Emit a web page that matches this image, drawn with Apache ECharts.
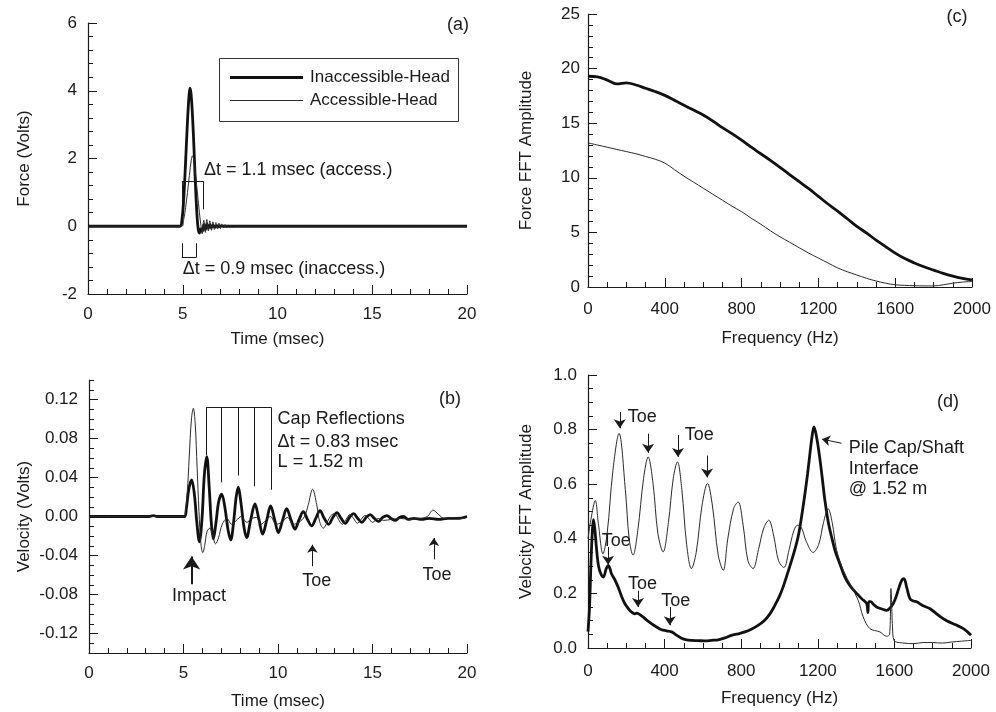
<!DOCTYPE html>
<html>
<head>
<meta charset="utf-8">
<script src="https://cdn.jsdelivr.net/npm/echarts@6/dist/echarts.min.js"></script>
<style>
  html, body { margin: 0; padding: 0; background: #fff; }
  #chart { width: 996px; height: 712px; }
</style>
</head>
<body>
<div id="chart"></div>
<script>
// ---- (a) force time histories [time ms, volts] ----
const forceInacc = [[0,0],[4.85,0],[4.95,0.15],[5.05,0.8],[5.15,1.9],[5.25,3.1],[5.33,3.85],[5.38,4.08],[5.44,3.9],[5.52,3.2],
  [5.6,2.2],[5.68,1.1],[5.76,0.25],[5.82,-0.1],[5.88,-0.2],[5.95,-0.08],[6.03,-0.15],[6.11,0.05],[6.19,-0.1],[6.27,0.06],
  [6.35,-0.06],[6.43,0.05],[6.51,-0.04],[6.6,0.03],[6.7,-0.03],[6.8,0.02],[6.9,-0.02],[7.0,0.01],[7.2,0],[7.5,0],[20,0]];
const forceAcc = [[0,0],[4.95,0],[5.05,0.2],[5.15,0.55],[5.25,1.0],[5.35,1.5],[5.45,1.95],[5.51,2.08],[5.58,1.95],[5.68,1.5],
  [5.78,0.95],[5.88,0.4],[5.96,0.02],[6.03,-0.22],[6.11,0.18],[6.19,-0.18],[6.27,0.2],[6.35,-0.14],[6.43,0.16],[6.51,-0.12],
  [6.59,0.13],[6.67,-0.1],[6.75,0.11],[6.83,-0.08],[6.91,0.09],[6.99,-0.07],[7.07,0.07],[7.15,-0.05],[7.23,0.05],[7.31,-0.04],
  [7.39,0.04],[7.47,-0.03],[7.55,0.03],[7.63,-0.02],[7.71,0.02],[7.8,0],[8.2,0],[20,0]];

// ---- (b) velocity time histories [time ms, volts] ----
const velInacc = [[0,0],[3.2,0],[3.4,0.001],[3.6,0],[5.05,0],[5.15,0.008],[5.28,0.028],[5.43,0.0375],[5.58,0.022],[5.7,-0.005],
  [5.84,-0.026],[5.98,-0.002],[6.1,0.042],[6.23,0.0615],[6.36,0.03],[6.47,-0.006],[6.58,-0.023],[6.72,-0.006],[6.86,0.015],[7.02,0.023],
  [7.2,0.008],[7.35,-0.013],[7.5,-0.024],[7.65,-0.006],[7.78,0.019],[7.9,0.030],[8.04,0.014],[8.2,-0.011],[8.34,-0.0216],[8.56,-0.003],
  [8.78,0.0128],[8.98,-0.002],[9.19,-0.018],[9.4,-0.004],[9.61,0.011],[9.82,-0.003],[10.02,-0.0165],[10.24,-0.004],[10.46,0.008],[10.68,-0.003],
  [10.9,-0.013],[11.12,-0.003],[11.34,0.005],[11.56,-0.003],[11.78,-0.0096],[12.0,-0.002],[12.22,0.006],[12.45,-0.002],[12.68,-0.008],[12.9,-0.001],
  [13.12,0.004],[13.34,-0.002],[13.56,-0.007],[13.78,-0.001],[14.0,0.003],[14.22,-0.002],[14.44,-0.006],[14.66,-0.001],[14.88,0.002],[15.1,-0.002],
  [15.32,-0.005],[15.54,-0.001],[15.76,0.001],[15.98,-0.002],[16.2,-0.004],[16.42,-0.001],[16.64,0.0],[16.9,-0.003],[17.2,-0.002],[17.6,-0.003],
  [18.0,-0.002],[18.5,-0.003],[19.0,-0.002],[19.5,-0.002],[20,0.0]];
const velAcc = [[0,0],[5.0,0],[5.1,0.005],[5.2,0.025],[5.3,0.06],[5.42,0.1],[5.52,0.111],[5.62,0.095],[5.72,0.05],[5.82,0.005],
  [5.92,-0.028],[6.02,-0.037],[6.12,-0.03],[6.25,-0.015],[6.4,-0.012],[6.55,-0.02],[6.7,-0.028],[6.85,-0.022],[7.05,-0.008],[7.3,-0.002],
  [7.55,-0.008],[7.8,-0.004],[8.05,0.0],[8.35,-0.006],[8.6,-0.002],[8.85,-0.001],[9.1,-0.008],[9.35,-0.004],[9.6,0.0],[9.9,-0.008],
  [10.2,-0.006],[10.5,-0.001],[10.8,-0.008],[11.1,-0.006],[11.4,0.0],[11.6,0.012],[11.83,0.028],[12.05,0.012],[12.2,-0.005],[12.4,-0.012],
  [12.6,-0.006],[12.8,0.001],[13.0,0.003],[13.2,-0.003],[13.4,-0.008],[13.6,-0.003],[13.8,0.002],[14.0,-0.002],[14.2,-0.007],[14.4,-0.003],
  [14.6,0.001],[14.8,-0.002],[15.0,-0.006],[15.3,-0.002],[15.6,-0.004],[16.0,-0.003],[16.5,-0.002],[17.0,-0.003],[17.5,-0.002],[17.9,0.0],
  [18.2,0.0066],[18.5,0.002],[18.8,-0.002],[19.2,-0.001],[19.6,-0.002],[20,-0.001]];

// ---- (c) force spectra [Hz, amplitude] ----
const forceFftInacc = [[0,19.3],[50,19.25],[100,18.95],[150,18.6],[200,18.7],[250,18.5],[300,18.2],[350,17.9],[400,17.55],[450,17.1],
  [500,16.65],[550,16.2],[600,15.75],[650,15.2],[700,14.6],[750,14.05],[800,13.45],[850,12.8],[900,12.2],[950,11.6],
  [1000,10.95],[1050,10.3],[1100,9.65],[1150,9.0],[1200,8.3],[1250,7.6],[1300,6.95],[1350,6.25],[1400,5.55],[1450,4.95],
  [1500,4.3],[1550,3.7],[1600,3.1],[1650,2.6],[1700,2.2],[1750,1.85],[1800,1.55],[1850,1.25],[1900,1.0],[1950,0.8],[2000,0.65]];
const forceFftAcc = [[0,13.2],[50,13.0],[100,12.8],[150,12.6],[200,12.4],[250,12.2],[300,11.95],[350,11.7],[400,11.35],[450,10.75],
  [500,10.15],[550,9.6],[600,9.05],[650,8.5],[700,7.95],[750,7.4],[800,6.9],[850,6.3],[900,5.75],[950,5.15],
  [1000,4.6],[1050,4.1],[1100,3.6],[1150,3.1],[1200,2.65],[1250,2.2],[1300,1.75],[1350,1.4],[1400,1.1],[1450,0.8],
  [1500,0.55],[1550,0.35],[1600,0.2],[1650,0.15],[1700,0.12],[1750,0.1],[1800,0.1],[1850,0.2],[1900,0.35],[1950,0.45],[2000,0.5]];

// ---- (d) velocity spectra [Hz, amplitude] ----
const velFftInacc = [[0,0.06],[8,0.15],[15,0.3],[22,0.42],[28,0.47],[35,0.44],[45,0.36],[55,0.30],[68,0.27],[80,0.26],
  [95,0.29],[105,0.303],[115,0.29],[122,0.273],[140,0.25],[157,0.224],[175,0.19],[192,0.163],[210,0.145],[227,0.132],
  [245,0.125],[253,0.128],[265,0.125],[287,0.114],[310,0.10],[331,0.089],[360,0.076],[384,0.067],[410,0.063],[436,0.059],
  [460,0.048],[488,0.036],[515,0.03],[540,0.028],[575,0.027],[610,0.026],[645,0.028],[680,0.030],[715,0.037],[749,0.046],
  [785,0.052],[819,0.059],[855,0.07],[888,0.083],[920,0.10],[950,0.125],[975,0.155],[1000,0.19],[1019,0.224],[1045,0.28],
  [1063,0.32],[1080,0.36],[1098,0.41],[1115,0.48],[1133,0.566],[1147,0.64],[1159,0.713],[1170,0.775],[1180,0.81],[1193,0.775],
  [1207,0.713],[1222,0.63],[1237,0.541],[1255,0.46],[1272,0.407],[1293,0.35],[1315,0.309],[1335,0.27],[1350,0.248],[1375,0.222],
  [1403,0.2],[1430,0.18],[1455,0.163],[1462,0.13],[1466,0.17],[1476,0.17],[1490,0.16],[1507,0.15],[1535,0.143],[1559,0.138],
  [1575,0.145],[1594,0.163],[1610,0.19],[1625,0.224],[1640,0.25],[1650,0.254],[1665,0.22],[1681,0.181],[1700,0.172],[1716,0.169],
  [1750,0.155],[1786,0.144],[1830,0.12],[1873,0.10],[1920,0.085],[1960,0.071],[1980,0.06],[2000,0.047]];
const velFftAcc = [[0,0.40],[15,0.47],[38,0.54],[55,0.45],[78,0.345],[100,0.42],[130,0.65],[162,0.786],[195,0.58],[215,0.40],
  [235,0.34],[260,0.43],[290,0.62],[314,0.70],[340,0.60],[365,0.42],[392,0.352],[420,0.46],[445,0.62],[467,0.682],
  [490,0.58],[515,0.38],[540,0.291],[565,0.35],[595,0.52],[624,0.603],[650,0.52],[680,0.34],[706,0.285],[730,0.40],
  [760,0.51],[784,0.535],[810,0.45],[835,0.32],[862,0.291],[890,0.36],[918,0.44],[944,0.468],[970,0.41],[995,0.32],
  [1023,0.295],[1050,0.36],[1075,0.43],[1095,0.45],[1115,0.44],[1140,0.39],[1176,0.35],[1205,0.38],[1230,0.46],[1254,0.51],
  [1275,0.46],[1298,0.36],[1333,0.285],[1376,0.224],[1411,0.175],[1437,0.114],[1472,0.071],[1524,0.059],[1559,0.043],[1575,0.05],
  [1582,0.218],[1590,0.08],[1598,0.028],[1650,0.018],[1700,0.016],[1750,0.02],[1800,0.02],[1850,0.018],[1900,0.022],[1950,0.025],[2000,0.028]];

// ---- tick labels for the velocity axis of (b) ----
const velLabelTicks = [-0.12, -0.08, -0.04, 0, 0.04, 0.08, 0.12];

const seriesNames = ['Inaccessible-Head', 'Accessible-Head'];

const FONT = "'Liberation Sans', Arial, Helvetica, sans-serif";
const INK = '#1a1a1a';

const chart = echarts.init(document.getElementById('chart'), null, { renderer: 'canvas' });

function baseAxis(extra) {
  return Object.assign({
    type: 'value',
    axisLine: { show: true, onZero: false, lineStyle: { color: INK, width: 1.2 } },
    axisTick: { show: true, inside: true, length: 9, lineStyle: { color: INK, width: 1 } },
    minorTick: { show: true, length: 5, lineStyle: { color: INK, width: 1 } },
    splitLine: { show: false },
    minorSplitLine: { show: false },
    axisLabel: { fontSize: 17, color: INK, fontFamily: FONT },
    nameLocation: 'middle',
    nameTextStyle: { fontSize: 17, color: INK, fontFamily: FONT }
  }, extra);
}

function lbl(margin, formatter) {
  return { fontSize: 17, color: INK, fontFamily: FONT, margin, formatter: formatter || (v => String(v)) };
}
function minor(n) {
  return { show: true, splitNumber: n, length: 5, lineStyle: { color: INK, width: 1 } };
}

// minor tick positions for (b), every 0.01 V
const velMinor = [];
for (let k = -14; k <= 14; k++) velMinor.push(k / 100);

const xAxes = [
  baseAxis({ gridIndex: 0, min: 0, max: 20, interval: 5, minorTick: minor(5), axisLabel: lbl(12), name: 'Time (msec)', nameGap: 37 }),
  baseAxis({ gridIndex: 1, min: 0, max: 20, interval: 5, minorTick: minor(5), axisLabel: lbl(12), name: 'Time (msec)', nameGap: 40 }),
  baseAxis({ gridIndex: 2, min: 0, max: 2000, interval: 400, minorTick: minor(4), axisLabel: lbl(14), name: 'Frequency (Hz)', nameGap: 43 }),
  baseAxis({ gridIndex: 3, min: 0, max: 2000, interval: 400, minorTick: minor(4), axisLabel: lbl(15), name: 'Frequency (Hz)', nameGap: 42 })
];

const yAxes = [
  baseAxis({ gridIndex: 0, min: -2, max: 6, interval: 2, minorTick: minor(5), axisLabel: lbl(11), name: 'Force (Volts)', nameGap: 55 }),
  baseAxis({ gridIndex: 1, min: -0.14, max: 0.14, minorTick: { show: false },
    axisTick: { show: true, inside: true, length: 9, customValues: velLabelTicks, lineStyle: { color: INK, width: 1 } },
    axisLabel: Object.assign(lbl(11, v => v.toFixed(2)), { customValues: velLabelTicks }),
    name: 'Velocity (Volts)', nameGap: 56 }),
  baseAxis({ gridIndex: 2, min: 0, max: 25, interval: 5, minorTick: minor(5), axisLabel: lbl(8), name: 'Force FFT Amplitude', nameGap: 53 }),
  baseAxis({ gridIndex: 3, min: 0, max: 1, interval: 0.2, minorTick: minor(4), axisLabel: lbl(11, v => v.toFixed(1)),
    name: 'Velocity FFT Amplitude', nameGap: 53 }),
  // minor ticks for the velocity axis of (b)
  {
    type: 'value', gridIndex: 1, min: -0.14, max: 0.14, position: 'left', offset: 0,
    axisLine: { show: false }, splitLine: { show: false }, axisLabel: { show: false },
    axisTick: { show: true, inside: true, length: 5, customValues: velMinor, lineStyle: { color: INK, width: 1 } }
  }
];

function curve(name, data, xi, yi, thick, extra) {
  return Object.assign({
    name, type: 'line', xAxisIndex: xi, yAxisIndex: yi, data,
    showSymbol: false, symbol: 'none', smooth: 0.35, silent: true,
    lineStyle: { color: thick ? '#111' : '#2a2a2a', width: thick ? 2.8 : 1 },
    itemStyle: { color: thick ? '#111' : '#2a2a2a' },
    z: thick ? 3 : 4
  }, extra || {});
}

// line segments / arrows in data coordinates
function marks(segs) {
  return {
    silent: true, animation: false, symbol: ['none', 'none'],
    label: { show: false }, emphasis: { disabled: true },
    lineStyle: { color: INK, width: 1, type: 'solid', opacity: 1 },
    data: segs.map(s => [
      { coord: s.from, symbol: 'none', lineStyle: { color: INK, width: s.width || 1, type: 'solid', opacity: 1 } },
      { coord: s.to, symbol: s.arrow ? 'arrow' : 'none', symbolSize: s.size || 9 }
    ])
  };
}

function texts(xi, yi, items) {
  return {
    type: 'scatter', xAxisIndex: xi, yAxisIndex: yi, silent: true, symbolSize: 1,
    itemStyle: { color: 'transparent', opacity: 1 }, z: 10,
    data: items.map(it => ({
      value: [it.x, it.y],
      label: {
        show: true, position: 'inside', formatter: it.text, align: it.align || 'left', verticalAlign: 'middle',
        fontSize: it.size || 18, color: INK, opacity: 1, fontFamily: FONT, lineHeight: 20
      }
    }))
  };
}

const marksA = marks([
  { from: [4.95, 0.7], to: [4.95, 1.33] }, { from: [4.95, 1.33], to: [6.08, 1.33] }, { from: [6.08, 1.33], to: [6.08, 0.5] },
  { from: [4.95, -0.5], to: [4.95, -0.92] }, { from: [4.95, -0.92], to: [5.72, -0.92] }, { from: [5.72, -0.92], to: [5.72, -0.5] }
]);
const marksB = marks([
  { from: [6.2, 0.112], to: [9.63, 0.112] },
  { from: [6.2, 0.112], to: [6.2, 0.063] }, { from: [7.02, 0.112], to: [7.02, 0.035] },
  { from: [7.9, 0.112], to: [7.9, 0.042] }, { from: [8.74, 0.112], to: [8.74, 0.031] },
  { from: [9.63, 0.112], to: [9.63, 0.0275] },
  { from: [5.43, -0.0694], to: [5.43, -0.041], arrow: true, width: 2, size: 13 },
  { from: [11.82, -0.051], to: [11.82, -0.029], arrow: true, size: 8 },
  { from: [18.25, -0.044], to: [18.25, -0.022], arrow: true, size: 8 }
]);
const marksD = marks([
  { from: [166, 0.865], to: [166, 0.805], arrow: true, size: 9 },
  { from: [314, 0.785], to: [314, 0.715], arrow: true, size: 9 },
  { from: [470, 0.78], to: [470, 0.70], arrow: true, size: 9 },
  { from: [622, 0.705], to: [622, 0.625], arrow: true, size: 9 },
  { from: [105, 0.37], to: [105, 0.305], arrow: true, size: 9 },
  { from: [261, 0.21], to: [261, 0.15], arrow: true, size: 9 },
  { from: [427, 0.15], to: [427, 0.083], arrow: true, size: 9 },
  { from: [1324, 0.75], to: [1222, 0.765], arrow: true, size: 8 }
]);

// boxed key in the upper-left panel
const key = {
  type: 'group', left: 219, top: 58, silent: true,
  children: [
    { type: 'rect', shape: { x: 0.5, y: 0.5, width: 239, height: 63 }, style: { fill: '#fff', stroke: '#333', lineWidth: 1 } },
    { type: 'line', shape: { x1: 11, y1: 19.5, x2: 84, y2: 19.5 }, style: { stroke: '#111', lineWidth: 3 } },
    { type: 'line', shape: { x1: 11, y1: 42.5, x2: 84, y2: 42.5 }, style: { stroke: '#2a2a2a', lineWidth: 1 } },
    { type: 'text', x: 91, y: 19.5, style: { text: seriesNames[0], fill: INK, font: '17px ' + FONT, verticalAlign: 'middle' } },
    { type: 'text', x: 91, y: 42.5, style: { text: seriesNames[1], fill: INK, font: '17px ' + FONT, verticalAlign: 'middle' } }
  ]
};

const option = {
  animation: false,
  backgroundColor: '#ffffff',
  textStyle: { fontFamily: FONT },
  grid: [
    { left: 88, top: 23, width: 379, height: 271 },
    { left: 89, top: 380, width: 378, height: 273 },
    { left: 588, top: 14, width: 384, height: 273 },
    { left: 588, top: 375, width: 383, height: 273 }
  ],
  graphic: [key],
  xAxis: xAxes,
  yAxis: yAxes,
  series: [
    curve(seriesNames[0], forceInacc, 0, 0, true, { markLine: marksA }),
    curve(seriesNames[1], forceAcc, 0, 0, false),
    curve(seriesNames[0], velInacc, 1, 1, true, { markLine: marksB }),
    curve(seriesNames[1], velAcc, 1, 1, false),
    curve(seriesNames[0], forceFftInacc, 2, 2, true),
    curve(seriesNames[1], forceFftAcc, 2, 2, false),
    curve(seriesNames[0], velFftInacc, 3, 3, true, { markLine: marksD }),
    curve(seriesNames[1], velFftAcc, 3, 3, false),
    texts(0, 0, [
      { x: 6.12, y: 1.65, text: 'Δt = 1.1 msec (access.)' },
      { x: 5.0, y: -1.27, text: 'Δt = 0.9 msec (inaccess.)' },
      { x: 19.52, y: 5.93, text: '(a)', align: 'center' }
    ]),
    texts(1, 1, [
      { x: 9.98, y: 0.0997, text: 'Cap Reflections' },
      { x: 9.98, y: 0.0763, text: 'Δt = 0.83 msec' },
      { x: 9.98, y: 0.0557, text: 'L = 1.52 m' },
      { x: 5.82, y: -0.0818, text: 'Impact', align: 'center' },
      { x: 12.05, y: -0.0663, text: 'Toe', align: 'center' },
      { x: 18.41, y: -0.060, text: 'Toe', align: 'center' },
      { x: 19.1, y: 0.12, text: '(b)', align: 'center' }
    ]),
    texts(2, 2, [
      { x: 1922, y: 24.7, text: '(c)', align: 'center' }
    ]),
    texts(3, 3, [
      { x: 207, y: 0.846, text: 'Toe' },
      { x: 505, y: 0.78, text: 'Toe' },
      { x: 72, y: 0.392, text: 'Toe' },
      { x: 209, y: 0.236, text: 'Toe' },
      { x: 383, y: 0.172, text: 'Toe' },
      { x: 1362, y: 0.732, text: 'Pile Cap/Shaft' },
      { x: 1362, y: 0.654, text: 'Interface' },
      { x: 1362, y: 0.581, text: '@ 1.52 m' },
      { x: 1880, y: 0.90, text: '(d)', align: 'center' }
    ])
  ]
};

chart.setOption(option);
</script>
</body>
</html>
